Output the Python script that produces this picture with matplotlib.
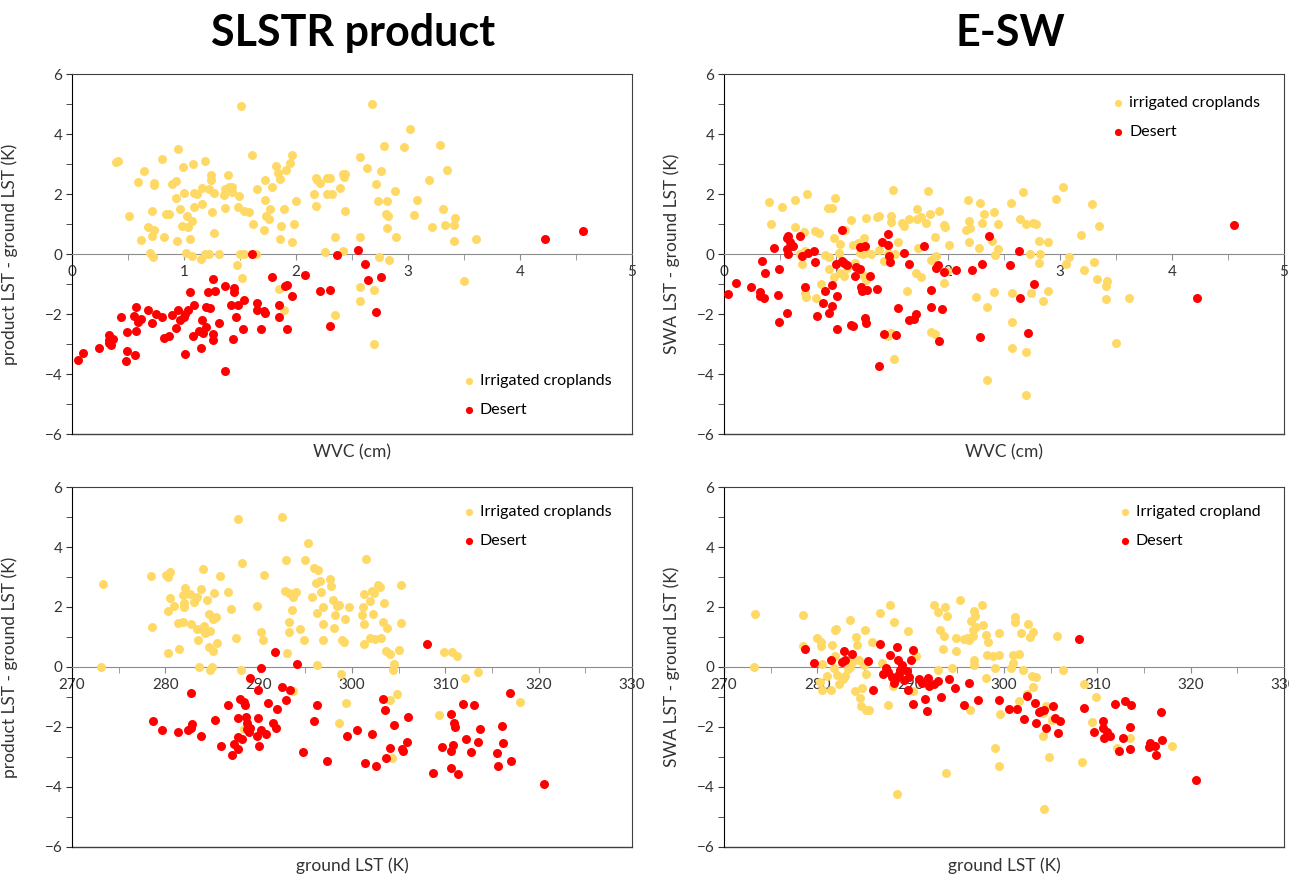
import matplotlib.pyplot as plt
from matplotlib.ticker import MultipleLocator

# ---- SLSTR product x WVC ----
wvc_crop_slstr = [1.51, 2.68, 2.79, 0.39, 0.41, 0.80, 0.95, 0.64, 0.59, 0.73, 0.73, 0.89, 0.93, 0.99, 1.08, 1.19,
                  1.24, 1.24, 1.39, 1.61, 1.72, 1.82, 1.84, 1.86, 1.91, 1.95, 1.96, 1.79, 1.65, 1.72, 1.77, 1.89,
                  2.00, 2.16, 2.18, 2.19, 2.21, 2.28, 2.30, 2.39, 2.42, 2.44, 2.43, 2.57, 2.63, 2.71, 2.76, 2.73,
                  2.81, 2.80, 2.82, 2.81, 2.28, 2.32, 2.18, 2.44, 2.35, 2.57, 2.26, 2.42, 2.74, 2.83, 2.57, 2.57,
                  2.70, 2.35, 2.70, 1.85, 1.89, 1.52, 1.47, 1.00, 0.93, 0.96, 1.09, 1.12, 1.16, 1.16, 1.09, 1.22,
                  1.27, 1.25, 1.37, 1.40, 1.43, 1.36, 1.43, 1.49, 1.37, 1.48, 1.54, 1.58, 1.62, 1.71, 1.73, 1.76,
                  1.87, 1.98, 1.86, 1.96, 0.51, 0.71, 0.84, 0.87, 1.03, 1.07, 1.04, 0.98, 0.68, 0.73, 0.71, 0.82,
                  0.62, 0.94, 1.05, 1.27, 0.70, 0.72, 1.02, 1.07, 1.15, 1.19, 1.22, 1.31, 1.50, 1.54, 1.64, 3.02,
                  2.96, 3.29, 3.35, 3.19, 2.88, 3.08, 3.31, 3.05, 3.42, 3.21, 3.33, 3.41, 2.89, 3.41, 3.61, 3.50]
dlst_crop_slstr = [4.94, 4.99, 3.60, 3.06, 3.10, 3.17, 3.49, 2.78, 2.40, 2.38, 2.31, 2.32, 2.43, 2.89, 3.01, 3.10,
                   2.62, 2.47, 2.64, 3.29, 2.48, 2.92, 2.69, 2.49, 2.79, 3.03, 3.29, 2.24, 2.16, 1.81, 1.49, 1.50,
                   1.76, 2.01, 2.54, 2.47, 2.37, 2.52, 2.52, 2.20, 2.68, 2.67, 2.56, 3.24, 2.87, 2.34, 2.77, 1.76,
                   1.76, 1.32, 1.28, 0.88, 2.01, 2.01, 1.60, 1.44, 0.58, 0.56, 0.06, 0.11, -0.11, -0.21, -1.10, -1.58,
                   -1.20, -2.02, -3.01, -1.16, -1.87, -0.80, -0.37, 2.02, 1.88, 1.49, 2.03, 1.99, 2.20, 1.67, 1.57, 2.17,
                   2.02, 1.39, 2.16, 2.22, 2.24, 1.97, 2.06, 1.92, 1.52, 1.58, 1.43, 1.39, 0.99, 0.79, 1.27, 1.18,
                   0.93, 0.99, 0.51, 0.39, 1.26, 1.44, 1.34, 1.34, 1.26, 1.11, 0.91, 0.92, 0.91, 0.81, 0.61, 0.56,
                   0.48, 0.44, 0.51, 0.69, 0.02, -0.11, 0.02, -0.07, -0.17, 0.01, 0.01, 0.01, 0.01, 0.01, 0.01, 4.16,
                   3.56, 3.62, 2.80, 2.48, 2.09, 1.80, 1.51, 1.30, 1.20, 0.91, 0.96, 0.98, 0.56, 0.42, 0.51, -0.90]

wvc_des_slstr = [0.05, 0.10, 0.24, 0.33, 0.33, 0.35, 0.37, 0.33, 0.44, 0.49, 0.49, 0.48, 0.56, 0.57, 0.55, 0.59,
                 0.62, 0.57, 0.68, 0.71, 0.75, 0.80, 0.82, 0.87, 0.89, 0.93, 0.95, 0.96, 1.00, 1.01, 1.01, 1.05,
                 1.04, 1.09, 1.08, 1.13, 1.17, 1.16, 1.20, 1.15, 1.21, 1.28, 1.20, 1.23, 1.26, 1.31, 1.26, 1.26,
                 1.37, 1.45, 1.45, 1.42, 1.48, 1.46, 1.54, 1.53, 1.44, 1.37, 1.61, 1.65, 1.65, 1.71, 1.72, 1.69,
                 1.79, 1.85, 1.85, 1.90, 1.92, 1.96, 1.92, 2.08, 2.21, 2.30, 2.30, 2.37, 2.55, 2.62, 2.64, 2.76,
                 2.71, 4.22, 4.56]
dlst_des_slstr = [-3.53, -3.30, -3.12, -2.71, -2.87, -3.03, -2.82, -2.96, -2.10, -2.61, -3.22, -3.56, -3.37, -1.78,
                  -2.06, -2.27, -2.16, -2.56, -1.86, -2.31, -2.00, -2.09, -2.80, -2.72, -2.04, -2.48, -1.86, -2.20,
                  -2.10, -2.00, -3.32, -1.27, -1.87, -1.69, -2.72, -2.56, -2.64, -2.20, -2.42, -3.13, -1.28, -1.22,
                  -1.77, -1.79, -0.84, -2.30, -2.67, -2.86, -1.06, -1.12, -1.26, -1.69, -1.69, -2.09, -1.53, -2.51,
                  -2.84, -3.90, 0.01, -1.64, -1.87, -1.89, -1.98, -2.49, -0.78, -1.69, -2.10, -1.08, -1.04, -1.41,
                  -2.51, -0.69, -1.22, -1.20, -2.39, -0.02, 0.12, -0.34, -0.88, -0.76, -1.94, 0.51, 0.77]

# ---- E-SW x WVC ----
wvc_crop_esw = [0.40, 0.42, 0.52, 0.63, 0.63, 0.74, 0.71, 0.81, 0.85, 0.68, 0.72, 0.70, 0.72, 0.73, 0.82, 0.87,
                0.90, 0.94, 0.93, 0.96, 0.99, 0.98, 0.94, 0.98, 1.03, 1.04, 1.08, 1.04, 1.07, 1.10, 1.13, 1.15,
                1.17, 1.20, 1.25, 1.21, 1.24, 1.27, 1.25, 1.27, 1.27, 1.31, 1.38, 1.37, 1.38, 1.43, 1.46, 1.49,
                1.49, 1.55, 1.51, 1.53, 1.49, 1.46, 1.52, 1.59, 1.61, 1.65, 1.63, 1.72, 1.72, 1.76, 1.73, 1.71,
                1.76, 1.80, 1.82, 1.84, 1.88, 1.92, 1.85, 1.89, 1.85, 1.88, 1.96, 1.97, 2.01, 1.96, 1.99, 2.18,
                2.19, 2.20, 2.16, 2.19, 2.29, 2.32, 2.30, 2.28, 2.25, 2.35, 2.35, 2.56, 2.67, 3.03, 2.96, 3.29,
                2.41, 2.45, 2.64, 2.70, 2.76, 2.79, 3.35, 3.19, 2.39, 2.81, 2.89, 2.45, 2.42, 2.73, 2.82, 2.81,
                3.05, 3.08, 3.30, 3.21, 3.33, 3.42, 3.41, 3.41, 3.62, 2.41, 2.57, 2.74, 2.89, 2.85, 2.57, 2.57,
                2.70, 2.70, 3.50]
dlst_crop_esw = [1.74, 0.99, 1.57, 1.79, 0.91, 2.01, 0.74, 0.78, 0.69, 0.00, 0.10, -0.33, -1.31, -1.44, -1.48, -1.01,
                 -0.02, -0.09, 1.52, 1.53, 1.87, 0.54, -0.50, -0.76, 0.04, 0.34, 0.80, -0.64, -0.73, -0.48, 1.13, 0.30,
                 -0.29, 0.38, 0.54, 0.02, 0.00, 0.08, -0.73, -0.87, 1.20, 0.01, 1.27, 1.23, 0.13, -0.22, 0.02, 1.28,
                 1.06, 0.41, 2.13, 0.00, -2.64, -2.72, -3.51, 1.02, 0.94, 1.18, -1.23, 1.17, 1.51, 1.24, 0.21, -0.62,
                 -0.78, 1.02, 2.10, 1.32, 0.58, 1.43, -0.20, -0.07, -2.59, -2.67, 0.98, 0.91, 0.29, -0.98, -0.56, 1.81,
                 1.09, 0.87, 0.80, 0.41, 1.71, 1.33, 1.02, 0.21, -1.44, -1.76, -4.20, 1.71, 2.08, 2.24, 1.84, 1.67,
                 1.39, 0.99, 1.18, 0.99, 1.04, 0.99, 0.93, 0.62, 0.44, 0.43, 0.41, 0.16, -0.03, 0.00, -0.01, -0.31,
                 -0.33, -0.09, -0.26, -0.54, -0.84, -0.91, -1.08, -1.51, -1.47, -1.26, -1.30, -1.30, -1.23, -1.57, -2.26, -3.13,
                 -3.27, -4.69, -2.97]

wvc_des_esw = [0.04, 0.11, 0.24, 0.32, 0.32, 0.36, 0.34, 0.37, 0.45, 0.49, 0.48, 0.49, 0.56, 0.57, 0.59, 0.62,
               0.57, 0.56, 0.56, 0.68, 0.70, 0.75, 0.80, 0.81, 0.72, 0.83, 0.88, 0.90, 0.94, 0.96, 0.96, 1.01,
               1.01, 1.00, 1.05, 1.05, 1.07, 1.10, 1.17, 1.18, 1.21, 1.21, 1.26, 1.22, 1.23, 1.28, 1.30, 1.13,
               1.15, 1.26, 1.27, 1.37, 1.38, 1.41, 1.46, 1.46, 1.47, 1.48, 1.43, 1.54, 1.55, 1.61, 1.65, 1.65,
               1.70, 1.71, 1.79, 1.85, 1.85, 1.91, 1.89, 1.95, 1.92, 1.96, 2.07, 2.21, 2.30, 2.29, 2.37, 2.63,
               2.55, 2.77, 2.64, 2.71, 4.22, 4.55]
dlst_des_esw = [-1.34, -0.96, -1.09, -1.28, -1.39, -1.47, -0.22, -0.64, 0.20, -0.51, -1.38, -2.28, 0.52, 0.61, 0.41,
                0.28, 0.00, 0.16, -1.98, 0.59, -0.07, 0.04, 0.10, -0.28, -1.09, -2.06, -1.62, -1.24, -1.98, -1.72,
                -1.04, -1.39, -2.50, -0.34, 0.80, -0.22, -0.31, -0.37, -0.73, -0.42, -0.51, 0.22, 0.28, -1.10, -1.23,
                -1.21, -0.72, -2.37, -2.41, -2.14, -2.29, -1.17, -3.72, 0.41, 0.67, 0.30, -0.07, -0.28, -2.67, -2.70,
                -1.79, 0.02, -0.33, -2.20, -2.18, -2.00, 0.27, -1.20, -1.77, -0.36, -0.46, -1.84, -2.89, -0.61, -0.54,
                -0.53, -0.34, -2.78, 0.60, 0.09, -0.36, -1.00, -1.47, -2.62, -1.47, 0.97]

# ---- SLSTR product x ground LST ----
lst_crop_slstr = [273.3, 273.1, 278.5, 278.6, 280.1, 280.5, 280.3, 280.3, 280.5, 280.9, 280.3, 281.5, 281.4, 281.9,
                  282.1, 281.9, 282.6, 282.0, 282.0, 283.1, 283.4, 282.8, 283.8, 284.0, 283.5, 283.4, 283.9, 284.3,
                  284.8, 284.5, 284.7, 285.1, 285.4, 284.1, 285.2, 285.9, 284.7, 285.1, 285.5, 283.6, 284.8, 285.0,
                  286.7, 287.0, 287.6, 287.8, 288.2, 288.1, 289.8, 290.3, 290.5, 290.6, 292.5, 292.9, 292.8, 293.2,
                  293.7, 294.0, 293.6, 293.2, 293.3, 293.0, 294.4, 294.9, 295.3, 295.0, 295.9, 296.4, 296.1, 296.6,
                  297.6, 296.7, 295.7, 297.8, 298.0, 298.4, 298.6, 296.9, 296.3, 298.2, 299.2, 296.9, 298.1, 296.9,
                  298.9, 299.1, 299.7, 296.3, 298.8, 299.4, 298.6, 293.7, 288.4, 301.1, 301.2, 301.3, 301.9, 302.1,
                  302.4, 301.5, 302.8, 303.0, 303.4, 302.3, 301.3, 301.3, 301.9, 302.5, 303.1, 303.3, 303.6, 305.2,
                  303.7, 305.3, 304.1, 305.0, 304.5, 304.4, 309.9, 310.7, 311.3, 312.1, 313.5, 318.0, 304.8, 304.1,
                  309.3, 304.3]
dlst_crop_slstr_lst = [2.77, 0.00, 3.04, 1.33, 3.08, 3.16, 3.01, 0.48, 2.30, 2.03, 1.88, 0.60, 1.48, 1.50,
                       2.64, 2.41, 2.44, 2.12, 2.00, 2.18, 2.33, 1.44, 2.61, 3.28, 0.91, 1.26, 1.28, 1.14,
                       1.20, 2.23, 1.76, 1.59, 1.67, 1.37, 2.48, 3.02, 0.68, 0.53, 0.80, 0.00, -0.11, 0.00,
                       2.51, 1.93, 0.98, 4.92, 3.48, -0.10, 2.02, 1.17, 0.89, 3.08, 5.00, 3.56, 2.53, 2.47,
                       2.34, 2.51, 1.91, 1.50, 1.18, 0.46, 1.28, 0.90, 4.13, 3.58, 3.30, 3.24, 2.80, 2.88,
                       2.92, 2.51, 2.34, 2.71, 2.23, 2.03, 2.08, 1.99, 1.81, 1.74, 1.59, 1.44, 1.29, 0.89,
                       0.91, 0.84, 1.99, 0.06, -0.22, -1.21, -1.87, -0.81, -2.06, 1.74, 2.00, 2.42, 2.19, 2.53,
                       2.47, 3.61, 2.74, 2.66, 2.14, 1.78, 1.42, 0.78, 0.98, 0.94, 0.96, 1.50, 0.53, 2.74,
                       1.31, 1.48, 0.44, 0.56, 0.11, -0.11, 0.51, 0.51, 0.37, -0.38, -0.17, -1.17, -0.91, -1.11,
                       -1.60, -3.03]

lst_des_slstr = [278.7, 279.6, 281.4, 282.4, 282.8, 282.9, 282.8, 283.8, 285.3, 286.0, 286.7, 287.1, 287.4, 287.8,
                 287.8, 288.0, 288.4, 288.5, 287.8, 288.2, 288.6, 288.8, 288.8, 289.1, 289.0, 289.1, 289.9, 289.9,
                 290.3, 289.8, 290.2, 290.8, 290.0, 291.0, 291.5, 291.9, 292.0, 291.8, 292.5, 292.9, 293.4, 294.1,
                 294.7, 295.9, 296.2, 297.3, 299.5, 300.5, 301.4, 302.1, 302.6, 303.3, 303.5, 303.6, 304.1, 308.0,
                 306.0, 304.5, 305.9, 305.4, 305.5, 308.7, 309.6, 310.6, 310.9, 311.0, 310.8, 310.6, 310.6, 311.4,
                 311.9, 313.1, 312.2, 312.8, 313.5, 313.7, 315.5, 315.6, 316.1, 316.2, 317.0, 316.9, 320.6]
dlst_des_slstr_lst = [-1.79, -2.09, -2.17, -2.10, -2.02, -1.89, -0.86, -2.29, -1.77, -2.64, -1.27, -2.93, -2.57, -2.73,
                      -1.70, -1.08, -1.16, -1.27, -2.32, -2.41, -1.67, -1.88, -2.06, -2.02, -2.16, -0.38, -1.71, -0.78,
                      -0.03, -2.30, -2.11, -2.22, -2.63, -1.21, -1.86, -2.03, -1.40, 0.50, -0.67, -1.09, -0.77, 0.11,
                      -2.84, -1.79, -1.26, -3.14, -2.31, -2.11, -3.21, -2.22, -3.31, -1.07, -1.43, -3.03, -2.71, 0.78,
                      -1.68, -1.92, -2.50, -2.72, -2.81, -3.52, -2.66, -1.56, -1.86, -1.99, -2.59, -2.80, -3.36, -3.57,
                      -1.24, -1.28, -2.40, -2.83, -2.51, -2.06, -2.87, -3.31, -1.97, -2.52, -3.14, -0.87, -3.91]

# ---- E-SW x ground LST ----
lst_crop_esw = [273.3, 273.2, 278.5, 278.5, 280.0, 280.4, 280.4, 280.5, 280.3, 280.5, 281.0, 281.5, 281.6, 281.9,
                282.0, 281.9, 281.8, 282.1, 282.3, 282.7, 283.0, 283.3, 283.5, 283.5, 283.75, 283.3, 284.1, 284.2,
                284.0, 284.5, 284.75, 284.6, 284.7, 285.2, 285.5, 285.1, 285.0, 285.2, 285.9, 286.7, 286.9, 287.6,
                287.75, 288.25, 288.1, 288.5, 289.75, 290.6, 290.3, 292.5, 292.9, 293.7, 293.9, 293.1, 293.6, 293.5,
                292.9, 294.4, 293.75, 294.9, 294.9, 295.3, 295.75, 296.0, 296.2, 296.4, 296.8, 296.8, 296.8, 296.9,
                296.5, 296.7, 297.0, 296.7, 297.6, 297.8, 298.1, 298.3, 298.2, 298.1, 299.6, 299.5, 301.2, 301.2,
                301.8, 302.6, 303.1, 302.8, 305.7, 298.8, 299.5, 299.0, 301.0, 301.6, 301.0, 300.7, 302.0, 303.0,
                303.4, 303.1, 306.3, 308.6, 309.9, 301.6, 302.5, 304.5, 304.2, 305.1, 304.2, 304.8, 299.0, 299.5,
                304.3, 308.4, 309.4, 313.5, 312.1, 318.0]
dlst_crop_esw_lst = [1.76, 0.00, 1.73, 0.69, 0.97, 0.82, 0.71, 0.11, -0.49, -0.76, -0.31, -0.78, 0.72, 1.22,
                     1.27, 0.37, -0.03, -0.26, -0.57, -0.39, -0.31, -0.07, -0.01, 1.56, 0.16, 0.20, 1.00, 0.74,
                     -0.80, 0.24, -0.70, -1.03, -1.31, -1.42, -1.44, 1.23, 0.06, -0.22, 0.84, 1.79, 0.13, -1.26,
                     2.08, 1.51, -0.64, -4.22, 1.19, 0.36, -0.81, 2.08, 1.83, 2.00, 1.71, 1.22, 1.04, 0.60,
                     -0.11, -0.03, -3.53, 0.97, 0.52, 2.24, 0.93, 0.96, 0.91, -1.42, 0.24, 0.08, 1.86, 1.71,
                     1.52, 1.24, 1.32, 1.04, 2.08, 1.39, 1.07, 0.83, 0.41, -0.37, -1.58, 1.13, 1.66, 1.49,
                     1.13, 1.43, 1.18, 0.99, 1.04, 0.38, 0.39, -0.04, 0.39, 0.43, 0.14, -0.02, -0.10, -0.30,
                     -0.34, -0.66, -0.10, -0.58, -1.01, -1.12, -0.91, -1.30, -1.53, -1.78, -2.29, -2.99, -2.71, -3.29,
                     -4.73, -3.17, -1.83, -2.37, -2.69, -2.64]

lst_des_esw = [278.7, 279.6, 281.5, 282.6, 282.9, 283.0, 283.75, 285.4, 286.0, 286.7, 287.4, 287.0, 287.6, 287.8,
               288.0, 288.3, 288.2, 288.5, 288.6, 288.8, 288.9, 289.1, 289.3, 289.6, 290.0, 290.3, 289.8, 289.7,
               290.2, 290.9, 291.25, 291.9, 292.0, 292.5, 292.9, 291.5, 291.7, 293.3, 294.1, 294.7, 295.75, 296.2,
               297.25, 299.5, 300.5, 301.4, 302.1, 302.5, 303.3, 303.4, 303.7, 304.0, 304.3, 304.5, 305.3, 305.5,
               306.0, 305.8, 308.0, 308.6, 309.6, 310.6, 310.6, 310.7, 311.0, 311.4, 311.9, 313.0, 313.6, 312.8,
               312.3, 313.5, 313.5, 315.5, 315.6, 316.2, 316.3, 316.8, 316.96, 320.6]
dlst_des_esw_lst = [0.59, 0.13, 0.24, 0.18, 0.54, 0.23, 0.43, 0.21, -0.78, 0.77, -0.03, -0.22, -0.17, 0.39,
                    -0.33, -0.42, -0.53, 0.66, 0.24, -0.22, -0.09, 0.08, -0.42, -0.14, 0.23, 0.58, -0.33, -0.78,
                    -1.22, -0.39, -0.53, -0.37, -0.64, -0.56, -0.48, -1.07, -1.48, -1.00, -0.39, -0.70, -1.28, -0.53,
                    -1.09, -1.10, -1.41, -1.41, -1.73, -0.98, -1.19, -1.88, -1.49, -1.47, -1.43, -2.04, -1.30, -1.69,
                    -1.79, -2.21, 0.94, -1.37, -2.17, -1.80, -2.02, -2.38, -2.18, -2.30, -1.23, -1.12, -1.28, -2.36,
                    -2.79, -2.00, -2.72, -2.68, -2.54, -2.63, -2.93, -1.51, -2.43, -3.77]

AMARELO = '#FFD966'
VERMELHO = '#FF0000'

plt.rcParams['font.family'] = ['Lato', 'DejaVu Sans']


# Montar um painel no estilo do Excel (eixo x cruzando em y = 0)
def painel(ax, xc, yc, xd, yd, xlim, xmaior, xmenor, xlabel, ylabel, rotulos, leg_pos, ylab_x):
    ax.scatter(xc, yc, s=42, color=AMARELO, linewidths=0, label=rotulos[0], zorder=3)
    ax.scatter(xd, yd, s=42, color=VERMELHO, linewidths=0, label=rotulos[1], zorder=4)
    ax.set_xlim(xlim)
    ax.set_ylim(-6, 6)
    ax.spines['bottom'].set_position(('data', 0))
    ax.spines['bottom'].set_color('#8c8c8c')
    ax.spines['left'].set_color('#000000')
    for lado in ['top', 'right']:
        ax.spines[lado].set_color('#404040')
    ax.plot([0, 1], [0, 0], transform=ax.transAxes, color='#404040', lw=1.0, clip_on=False)
    ax.xaxis.set_major_locator(MultipleLocator(xmaior))
    ax.xaxis.set_minor_locator(MultipleLocator(xmenor))
    ax.yaxis.set_major_locator(MultipleLocator(2))
    ax.yaxis.set_minor_locator(MultipleLocator(1))
    ax.tick_params(axis='x', which='both', direction='out', length=4, color='#8c8c8c',
                   labelsize=11, pad=4, labelcolor='#333333')
    ax.tick_params(axis='y', which='both', direction='out', length=4, color='#333333',
                   labelsize=11, pad=3, labelcolor='#333333')
    ax.set_xlabel(xlabel, fontsize=12.5, color='#333333')
    ax.xaxis.set_label_coords(0.5, -0.03)
    ax.set_ylabel(ylabel, fontsize=12.5, color='#333333')
    ax.yaxis.set_label_coords(ylab_x, 0.5)
    ax.legend(loc='center left', bbox_to_anchor=leg_pos, frameon=False, fontsize=11.5,
              handlelength=0.6, handletextpad=0.4, labelspacing=0.95, borderpad=0, borderaxespad=0,
              markerscale=0.8)


fig = plt.figure(figsize=(12.89, 8.77), dpi=100)
larg = 560 / 1289
alt = 360 / 877
ax1 = fig.add_axes([72 / 1289, 1 - 434 / 877, larg, alt])
ax2 = fig.add_axes([724 / 1289, 1 - 434 / 877, larg, alt])
ax3 = fig.add_axes([72 / 1289, 1 - 847 / 877, larg, alt])
ax4 = fig.add_axes([724 / 1289, 1 - 847 / 877, larg, alt])

painel(ax1, wvc_crop_slstr, dlst_crop_slstr, wvc_des_slstr, dlst_des_slstr, (0, 5), 1, 0.5,
       'WVC (cm)', 'product LST - ground LST (K)', ['Irrigated croplands', 'Desert'], (0.70, 0.107), -0.096)
painel(ax2, wvc_crop_esw, dlst_crop_esw, wvc_des_esw, dlst_des_esw, (0, 5), 1, 0.5,
       'WVC (cm)', 'SWA LST - ground LST (K)', ['irrigated croplands', 'Desert'], (0.695, 0.879), -0.079)
painel(ax3, lst_crop_slstr, dlst_crop_slstr_lst, lst_des_slstr, dlst_des_slstr_lst, (270, 330), 10, 5,
       'ground LST (K)', 'product LST - ground LST (K)', ['Irrigated croplands', 'Desert'], (0.70, 0.89), -0.096)
painel(ax4, lst_crop_esw, dlst_crop_esw_lst, lst_des_esw, dlst_des_esw_lst, (270, 330), 10, 5,
       'ground LST (K)', 'SWA LST - ground LST (K)', ['Irrigated cropland', 'Desert'], (0.707, 0.89), -0.079)

fig.text(353 / 1289, 1 - 33 / 877, 'SLSTR product', ha='center', va='center', fontsize=31, fontweight='bold')
fig.text(1010 / 1289, 1 - 33 / 877, 'E-SW', ha='center', va='center', fontsize=31, fontweight='bold')

fig.savefig('out.png', dpi=100)
